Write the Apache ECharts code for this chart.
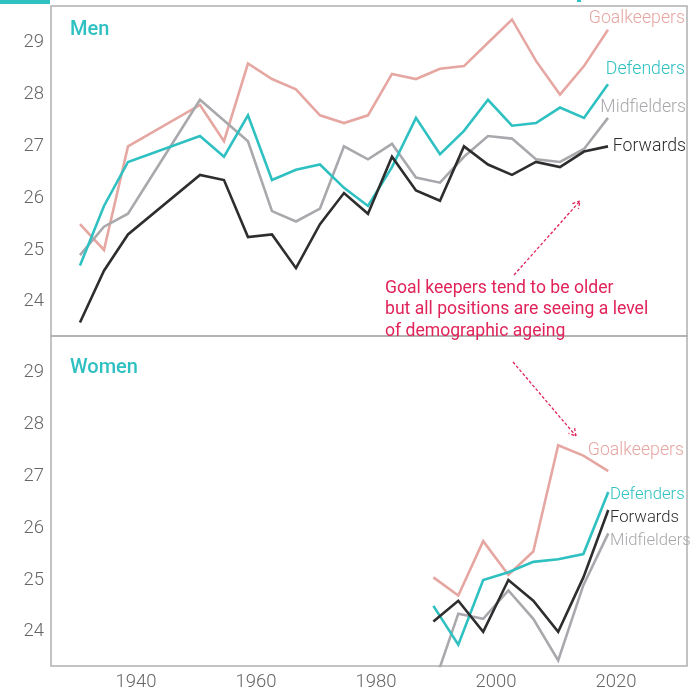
<!DOCTYPE html>
<html>
<head>
<meta charset="utf-8">
<script src="https://cdn.jsdelivr.net/npm/echarts@6/dist/echarts.min.js"></script>
<style>
  html, body { margin: 0; padding: 0; background: #fff; }
  #chart { width: 698px; height: 693px; }
</style>
</head>
<body>
<div id="chart"></div>
<script>
// men's world cups
const menYears = [1930, 1934, 1938, 1950, 1954, 1958, 1962, 1966, 1970, 1974, 1978,
  1982, 1986, 1990, 1994, 1998, 2002, 2006, 2010, 2014, 2018];
const menGoalkeepers = [25.5, 25.0, 27.0, 27.8, 27.1, 28.6, 28.3, 28.1, 27.6, 27.45, 27.6,
  28.4, 28.3, 28.5, 28.55, 29.0, 29.45, 28.65, 28.0, 28.55, 29.25];
const menDefenders = [24.7, 25.85, 26.7, 27.2, 26.8, 27.6, 26.35, 26.55, 26.65, 26.2, 25.85,
  26.6, 27.55, 26.85, 27.3, 27.9, 27.4, 27.45, 27.75, 27.55, 28.2];
const menMidfielders = [24.9, 25.45, 25.7, 27.9, 27.5, 27.1, 25.75, 25.55, 25.8, 27.0, 26.75,
  27.05, 26.4, 26.3, 26.8, 27.2, 27.15, 26.75, 26.7, 26.95, 27.55];
const menForwards = [23.6, 24.6, 25.3, 26.45, 26.35, 25.25, 25.3, 24.65, 25.5, 26.1, 25.7,
  26.8, 26.15, 25.95, 27.0, 26.65, 26.45, 26.7, 26.6, 26.9, 27.0];

// women's world cups (x)
const womenYears = [1988.9, 1993.05, 1997.2, 2001.4, 2005.55, 2009.7, 2013.9, 2018.05];
const womenGoalkeepers = [25.05, 24.7, 25.75, 25.1, 25.55, 27.6, 27.4, 27.1];
const womenDefenders = [24.5, 23.75, 25.0, 25.15, 25.35, 25.4, 25.5, 26.7];
const womenForwards = [24.2, 24.6, 24.0, 25.0, 24.6, 24.0, 25.05, 26.35];
const womenMidfielders = [22.95, 24.35, 24.25, 24.8, 24.25, 23.45, 24.9, 25.9];

const yTicks = [24, 25, 26, 27, 28, 29];
const xTicks = [1940, 1960, 1980, 2000, 2020];

const PINK = '#e6a7a2';
const TEAL = '#2fc0c1';
const GREY = '#a9a9ad';
const DARK = '#2e2e2e';
const RED = '#e0245a';
const FONT = 'Roboto, "Noto Sans", sans-serif';

function pairs(xs, ys) {
  return xs.map((x, i) => [x, ys[i]]);
}

function line(name, xs, ys, color, idx, z) {
  return {
    name: name,
    type: 'line',
    xAxisIndex: idx,
    yAxisIndex: idx,
    data: pairs(xs, ys),
    showSymbol: false,
    symbol: 'none',
    z: z,
    lineStyle: { color: color, width: 2.6, join: 'miter' },
    emphasis: { disabled: true },
  };
}

const yAxisBase = {
  type: 'value',
  min: 23.34,
  max: 29.71,
  axisLine: { show: false },
  axisTick: { show: false },
  splitLine: { show: false },
  axisLabel: {
    customValues: yTicks,
    formatter: (v) => String(v),
    color: '#666',
    fontSize: 18.5,
    fontWeight: 300,
    fontFamily: FONT,
    margin: 7,
  },
};

const xAxisBase = {
  type: 'value',
  min: 1925.17,
  max: 2031.17,
  axisLine: { show: false },
  axisTick: { show: false },
  splitLine: { show: false },
};

function label(text, x, y, color, align, size) {
  return {
    type: 'text',
    x: x,
    y: y,
    silent: true,
    style: {
      text: text,
      fill: color,
      font: '300 ' + (size || 17.7) + 'px ' + FONT,
      align: align || 'right',
      verticalAlign: 'middle',
    },
  };
}

function arrow(x1, y1, x2, y2) {
  const dx = x2 - x1, dy = y2 - y1;
  const len = Math.sqrt(dx * dx + dy * dy);
  const ux = dx / len, uy = dy / len;
  const c = Math.cos(Math.PI / 6), s = Math.sin(Math.PI / 6);
  const h = 8;
  const a = [x2 - h * (c * ux - s * uy), y2 - h * (s * ux + c * uy)];
  const b = [x2 - h * (c * ux + s * uy), y2 - h * (-s * ux + c * uy)];
  const st = { stroke: RED, lineWidth: 1.3, lineDash: [3, 2], fill: null };
  return [
    { type: 'line', silent: true, shape: { x1: x1, y1: y1, x2: x2, y2: y2 }, style: st },
    { type: 'polyline', silent: true, shape: { points: [a, [x2, y2], b] }, style: st },
  ];
}

const chart = echarts.init(document.getElementById('chart'), null, { renderer: 'canvas' });

chart.setOption({
  animation: false,
  backgroundColor: '#fff',
  grid: [
    { left: 51, top: 6, width: 636, height: 330, show: true, borderColor: '#b0b0b0',
      borderWidth: 1.5, backgroundColor: 'transparent', outerBoundsMode: 'none' },
    { left: 51, top: 336, width: 636, height: 330, show: true, borderColor: '#b0b0b0',
      borderWidth: 1.5, backgroundColor: 'transparent', outerBoundsMode: 'none' },
  ],
  xAxis: [
    Object.assign({}, xAxisBase, { gridIndex: 0, axisLabel: { show: false } }),
    Object.assign({}, xAxisBase, {
      gridIndex: 1,
      axisLabel: {
        customValues: xTicks,
        formatter: (v) => String(v),
        color: '#666',
        fontSize: 18.5,
        fontWeight: 300,
        fontFamily: FONT,
        margin: 7,
        padding: [0, 8, 0, 0],
      },
    }),
  ],
  yAxis: [
    Object.assign({}, yAxisBase, { gridIndex: 0 }),
    Object.assign({}, yAxisBase, { gridIndex: 1 }),
  ],
  series: [
    line('Goalkeepers', menYears, menGoalkeepers, PINK, 0, 2),
    line('Midfielders', menYears, menMidfielders, GREY, 0, 3),
    line('Defenders', menYears, menDefenders, TEAL, 0, 4),
    line('Forwards', menYears, menForwards, DARK, 0, 5),
    line('Goalkeepers', womenYears, womenGoalkeepers, PINK, 1, 2),
    line('Midfielders', womenYears, womenMidfielders, GREY, 1, 3),
    line('Defenders', womenYears, womenDefenders, TEAL, 1, 4),
    line('Forwards', womenYears, womenForwards, DARK, 1, 5),
  ],
  graphic: [
    { type: 'rect', silent: true, shape: { x: 0, y: 0, width: 50, height: 4 }, style: { fill: TEAL } },
    { type: 'rect', silent: true, shape: { x: 577, y: 0, width: 4, height: 2 }, style: { fill: TEAL } },
    {
      type: 'text', x: 70, y: 30, silent: true,
      style: { text: 'Men', fill: TEAL, font: '500 20px ' + FONT, verticalAlign: 'middle' },
    },
    {
      type: 'text', x: 70, y: 368, silent: true,
      style: { text: 'Women', fill: TEAL, font: '500 20px ' + FONT, verticalAlign: 'middle' },
    },
    label('Goalkeepers', 685, 19, PINK),
    label('Defenders', 685, 70, TEAL),
    label('Midfielders', 686, 108, GREY),
    label('Forwards', 686, 147, DARK),
    label('Goalkeepers', 684, 451, PINK),
    label('Defenders', 610, 495, TEAL, 'left', 16.7),
    label('Forwards', 610, 518, DARK, 'left', 16.7),
    label('Midfielders', 610, 541, GREY, 'left', 16.7),
    {
      type: 'text', x: 385, y: 278, silent: true, z: 10,
      style: {
        text: 'Goal keepers tend to be older\nbut all positions are seeing a level\nof demographic ageing',
        fill: RED,
        font: '400 17.6px ' + FONT,
        lineHeight: 21.3,
      },
    },
  ].concat(arrow(514, 275, 580, 201), arrow(513, 362, 576, 436)),
});
</script>
</body>
</html>
